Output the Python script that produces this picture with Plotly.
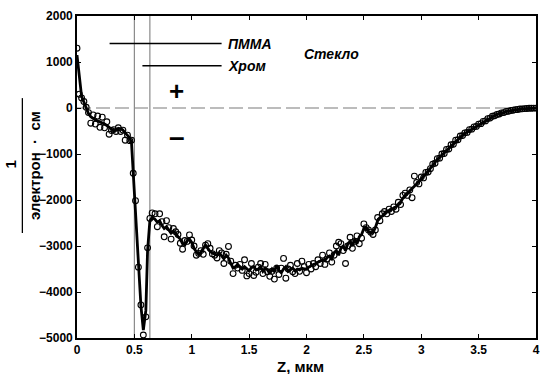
import plotly.graph_objects as go

# depth grid, micrometres
z = [0.00, 0.02, 0.04, 0.06, 0.08, 0.10, 0.12, 0.14, 0.16, 0.18,
     0.20, 0.22, 0.24, 0.26, 0.28, 0.30, 0.32, 0.34, 0.36, 0.38,
     0.40, 0.42, 0.44, 0.46,
     0.475, 0.49, 0.51, 0.535, 0.557, 0.578, 0.60, 0.615, 0.635, 0.655,
     0.68, 0.70, 0.72, 0.74, 0.76, 0.78, 0.80, 0.82, 0.84, 0.86,
     0.88, 0.90, 0.92, 0.94, 0.96, 0.98, 1.00, 1.02, 1.04, 1.06,
     1.08, 1.10, 1.12, 1.14, 1.16, 1.18, 1.20, 1.22, 1.24, 1.26,
     1.28, 1.30, 1.32, 1.34, 1.36, 1.38, 1.40, 1.42, 1.44, 1.46,
     1.48, 1.50, 1.52, 1.54, 1.56, 1.58, 1.60, 1.62, 1.64, 1.66,
     1.68, 1.70, 1.72, 1.74, 1.76, 1.78, 1.80, 1.82, 1.84, 1.86,
     1.88, 1.90, 1.92, 1.94, 1.96, 1.98, 2.00, 2.02, 2.04, 2.06,
     2.08, 2.10, 2.12, 2.14, 2.16, 2.18, 2.20, 2.22, 2.24, 2.26,
     2.28, 2.30, 2.32, 2.34, 2.36, 2.38, 2.40, 2.42, 2.44, 2.46,
     2.48, 2.50, 2.52, 2.54, 2.56, 2.58, 2.60, 2.62, 2.64, 2.66,
     2.68, 2.70, 2.72, 2.74, 2.76, 2.78, 2.80, 2.82, 2.84, 2.86,
     2.88, 2.90, 2.92, 2.94, 2.96, 2.98, 3.00, 3.02, 3.04, 3.06,
     3.08, 3.10, 3.12, 3.14, 3.16, 3.18, 3.20, 3.22, 3.24, 3.26,
     3.28, 3.30, 3.32, 3.34, 3.36, 3.38, 3.40, 3.42, 3.44, 3.46,
     3.48, 3.50, 3.52, 3.54, 3.56, 3.58, 3.60, 3.62, 3.64, 3.66,
     3.68, 3.70, 3.72, 3.74, 3.76, 3.78, 3.80, 3.82, 3.84, 3.86,
     3.88, 3.90, 3.92, 3.94, 3.96, 3.98, 4.00]

# smoothed curve
fit = [1150, 700, 250, 130, -20, -120, -190, -230, -260, -280,
       -300, -320, -350, -380, -420, -470, -500, -480, -440, -450,
       -480, -540, -590, -650,
       -760, -1400, -2050, -3350, -4300, -4830, -4400, -3100, -2450, -2380,
       -2420, -2480, -2450, -2550, -2620, -2580, -2650, -2720, -2680, -2720,
       -2800, -2850, -2950, -2980, -2880, -2850, -2920, -3050, -3130, -3180,
       -3130, -3050, -2980, -3050, -3120, -3150, -3180, -3200, -3150, -3230,
       -3280, -3200, -3260, -3380, -3480, -3450, -3400, -3450, -3500, -3450,
       -3500, -3540, -3470, -3450, -3520, -3500, -3450, -3550, -3480, -3520,
       -3600, -3500, -3560, -3420, -3530, -3580, -3500, -3450, -3550, -3520,
       -3480, -3540, -3500, -3520, -3480, -3500, -3500, -3460, -3420, -3400,
       -3380, -3350, -3330, -3300, -3320, -3250, -3220, -3280, -3150, -3100,
       -3200, -3050, -3000, -3100, -2950, -2900, -3000, -2850, -2950, -2800,
       -2750, -2620, -2600, -2680, -2720, -2700, -2600, -2450, -2380, -2350,
       -2300, -2250, -2230, -2200, -2180, -2150, -2100, -2050, -1960, -1920,
       -1860, -1800, -1760, -1700, -1650, -1600, -1550, -1490, -1430, -1370,
       -1300, -1240, -1180, -1120, -1070, -1020, -970, -920, -870, -820,
       -770, -720, -670, -630, -590, -550, -520, -490, -450, -420,
       -390, -360, -330, -300, -270, -240, -215, -190, -165, -145,
       -125, -110, -95, -80, -68, -56, -46, -38, -30, -24,
       -18, -14, -10, -7, -5, -3, -2]

# measured points
pts = [1300, 300, 220, 140, 15, -100, -330, -150, -350, -175,
       -420, -200, -430, -300, -570, -490, -470, -510, -430, -510,
       -480, -700, -590, -710,
       -700, -1420, -2015, -3460, -4280, -4935, -4540, -3040, -2400, -2280,
       -2300, -2580, -2300, -2470, -2800, -2450, -2600, -2850, -2620, -2690,
       -2750, -2940, -3070, -2880, -2900, -2760, -2870, -3000, -3200, -3160,
       -3100, -3180, -2980, -2950, -3050, -3170, -3200, -3260, -3100, -3150,
       -3380, -3180, -3010, -3330, -3600, -3420, -3480, -3400, -3530, -3300,
       -3650, -3600, -3380, -3640, -3570, -3460, -3380, -3600, -3400, -3560,
       -3660, -3550, -3720, -3480, -3620, -3480, -3270, -3700, -3500, -3420,
       -3560, -3600, -3380, -3550, -3330, -3450, -3580, -3400, -3500, -3380,
       -3450, -3300, -3380, -3200, -3400, -3280, -3150, -3350, -3200, -3000,
       -2920, -2950, -3100, -3380, -3000, -2810, -3050, -2900, -2780, -2950,
       -2830, -2520, -2600, -2650, -2700, -2750, -2650, -2380, -2450, -2300,
       -2250, -2300, -2200, -2250, -2150, -2200, -2050, -2100, -1900, -1850,
       -1900, -1780, -1950, -1480, -1620, -1650, -1500, -1520, -1400, -1390,
       -1320, -1220, -1200, -1100, -1090, -1000, -990, -900, -890, -800,
       -790, -700, -690, -610, -600, -540, -530, -470, -460, -410,
       -400, -350, -340, -290, -280, -230, -220, -180, -170, -140,
       -130, -105, -100, -75, -70, -55, -48, -36, -31, -23,
       -19, -13, -11, -6, -5, -3, -2]

# layer boundaries and labels
boundaries = [0.5, 0.635]
pmma_seg = [0.284, 1.26]
pmma_level = 1400
chrom_seg = [0.57, 1.26]
chrom_level = 920
x_ticks = [0, 0.5, 1, 1.5, 2, 2.5, 3, 3.5, 4]
x_tick_labels = ["0", "0.5", "1", "1.5", "2", "2.5", "3", "3.5", "4"]
y_ticks = [-5000, -4000, -3000, -2000, -1000, 0, 1000, 2000]

FONT = "Liberation Sans, Arial, sans-serif"

fig = go.Figure()

fig.add_trace(go.Scatter(x=z, y=fit, mode="lines",
                         line=dict(color="black", width=2.8),
                         showlegend=False, hoverinfo="skip"))
fig.add_trace(go.Scatter(x=z, y=pts, mode="markers",
                         marker=dict(symbol="circle-open", size=5.8,
                                     color="black", line=dict(width=1.1)),
                         showlegend=False))

# zero dashed line
fig.add_shape(type="line", x0=0, x1=4, y0=0, y1=0, xref="x", yref="y",
              line=dict(color="#7a7a7a", width=1.2, dash="14px,5px"),
              layer="below")
# boundary verticals
for b in boundaries:
    fig.add_shape(type="line", x0=b, x1=b, y0=-5000, y1=2000,
                  xref="x", yref="y",
                  line=dict(color="#8a8a8a", width=1.2), layer="below")
# label leader lines
fig.add_shape(type="line", x0=pmma_seg[0], x1=pmma_seg[1],
              y0=pmma_level, y1=pmma_level, line=dict(color="black", width=1.5))
fig.add_shape(type="line", x0=chrom_seg[0], x1=chrom_seg[1],
              y0=chrom_level, y1=chrom_level, line=dict(color="black", width=1.5))

ann_font = dict(family=FONT, size=14, color="black")
fig.add_annotation(x=1.30, y=pmma_level, text="<b><i>ПММА</i></b>",
                   showarrow=False, xanchor="left", yanchor="middle", font=ann_font)
fig.add_annotation(x=1.30, y=chrom_level, text="<b><i>Хром</i></b>",
                   showarrow=False, xanchor="left", yanchor="middle", font=ann_font)
fig.add_annotation(x=1.96, y=1170, text="<b><i>Стекло</i></b>",
                   showarrow=False, xanchor="left", yanchor="middle", font=ann_font)
fig.add_annotation(x=0.87, y=370, text="<b>+</b>", showarrow=False,
                   xanchor="center", yanchor="middle",
                   font=dict(family=FONT, size=26, color="black"))
fig.add_annotation(x=0.87, y=-620, text="<b>–</b>", showarrow=False,
                   xanchor="center", yanchor="middle",
                   font=dict(family=FONT, size=28, color="black"))

# y-axis label as a fraction
fig.add_annotation(xref="paper", yref="paper", x=-0.145, y=0.54,
                   text="<b>1</b>", textangle=-90, showarrow=False,
                   xanchor="center", yanchor="middle",
                   font=dict(family=FONT, size=15, color="black"))
fig.add_shape(type="line", xref="paper", yref="paper",
              x0=-0.119, x1=-0.119, y0=0.326, y1=0.745,
              line=dict(color="black", width=1.3))
fig.add_annotation(xref="paper", yref="paper", x=-0.093, y=0.535,
                   text="<b>электрон  ·  см</b>", textangle=-90, showarrow=False,
                   xanchor="center", yanchor="middle",
                   font=dict(family=FONT, size=15, color="black"))
# x-axis title
fig.add_annotation(xref="paper", yref="paper", x=0.488, y=-0.087,
                   text="<b>Z, мкм</b>", showarrow=False,
                   xanchor="center", yanchor="middle",
                   font=dict(family=FONT, size=15, color="black"))

axis_common = dict(showgrid=False, zeroline=False, showline=True,
                   linecolor="black", linewidth=1.6, mirror="ticks",
                   ticks="inside", ticklen=4, tickcolor="black", tickwidth=1,
                   ticklabeloverflow="allow",
                   tickfont=dict(family=FONT, size=12, color="black", weight="bold"))

fig.update_xaxes(range=[0, 4], tickvals=x_ticks, ticktext=x_tick_labels,
                 **axis_common)
fig.update_yaxes(range=[-5000, 2000], tickvals=y_ticks, **axis_common)

fig.update_layout(width=541, height=374,
                  margin=dict(l=77, r=1, t=16, b=36),
                  plot_bgcolor="white", paper_bgcolor="white",
                  showlegend=False)

fig.write_html("out.html",
               config={"displayModeBar": False},
               post_script="document.body.style.margin='0px';"
                           "document.body.style.overflow='hidden';")
